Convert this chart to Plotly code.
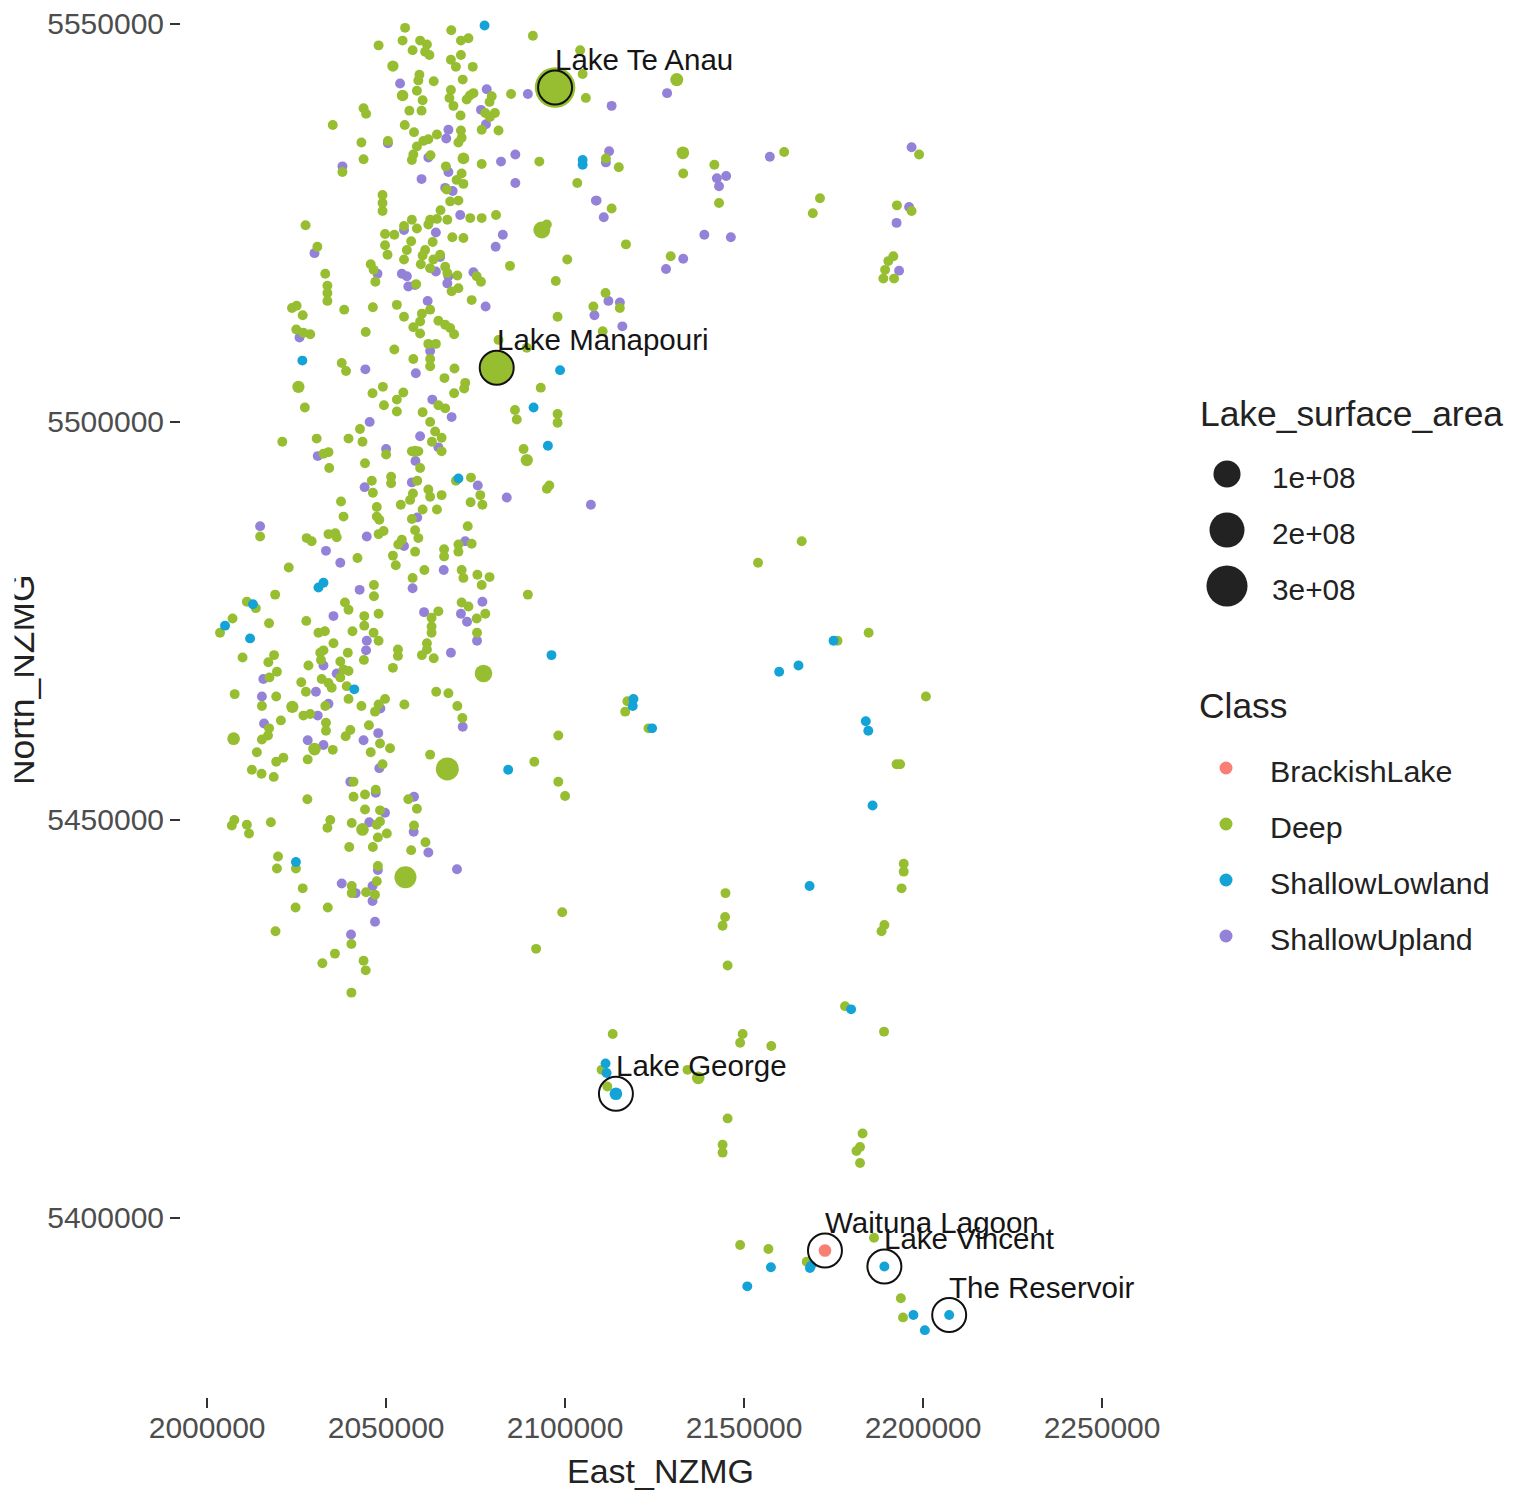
import plotly.graph_objects as go

# (East_NZMG, North_NZMG) in km
deep = [
(2055.3,5549.5),(2068.2,5549.2),(2091.0,5548.5),(2070.9,5547.9),(2073.0,5548.2),(2054.6,5547.9),(2047.9,5547.3),(2059.5,5547.9),(2061.4,5547.4),(2057.4,5546.7),
(2060.9,5546.5),(2062.1,5546.1),(2070.9,5546.1),(2068.1,5545.5),(2069.5,5544.6),(2074.2,5544.6),(2059.3,5543.6),(2059.0,5542.9),(2063.3,5542.8),(2071.4,5543.0),
(2058.6,5541.6),(2068.1,5541.7),(2067.7,5540.7),(2068.8,5539.7),(2073.4,5541.0),(2072.5,5540.5),(2074.4,5541.3),(2060.2,5540.4),(2079.5,5540.9),(2078.9,5540.2),
(2084.9,5541.2),(2105.8,5540.7),(2104.9,5543.7),(2104.2,5546.7),(2043.7,5539.4),(2044.4,5538.7),(2056.5,5539.1),(2059.9,5539.1),(2070.8,5538.5),(2077.7,5538.8),
(2079.0,5538.3),(2080.4,5538.8),(2035.1,5537.3),(2055.2,5537.3),(2057.8,5536.4),(2076.7,5536.7),(2081.4,5536.6),(2070.9,5536.6),(2071.1,5535.7),(2070.2,5535.1),
(2064.2,5536.1),(2061.8,5535.5),(2060.4,5535.3),(2043.1,5535.1),(2050.5,5535.3),(2058.6,5534.6),(2057.6,5533.6),(2057.2,5532.9),(2043.7,5533.0),(2062.4,5533.5),
(2076.7,5532.4),(2092.8,5532.7),(2066.7,5532.1),(2037.8,5531.4),(2071.1,5531.2),(2069.7,5530.4),(2071.6,5529.9),(2103.4,5530.0),(2066.9,5529.2),(2067.9,5527.7),
(2070.2,5527.8),(2049.0,5528.5),(2049.0,5527.5),(2049.0,5526.5),(2065.2,5526.6),(2080.7,5526.0),(2073.5,5525.6),(2076.7,5525.6),(2067.1,5525.4),(2064.2,5525.5),
(2062.3,5525.4),(2061.8,5524.8),(2057.2,5525.4),(2055.0,5524.6),(2058.6,5524.3),(2027.5,5524.7),(2094.9,5524.8),(2049.7,5523.6),(2052.3,5523.5),(2049.7,5522.2),
(2050.4,5521.0),(2068.5,5523.2),(2071.6,5523.1),(2057.0,5522.7),(2055.8,5521.6),(2055.0,5520.4),(2063.0,5522.6),(2030.8,5522.0),(2060.9,5521.6),(2060.2,5520.9),
(2059.7,5519.8),(2065.1,5521.0),(2063.2,5520.4),(2062.3,5519.3),(2100.6,5520.4),(2066.5,5519.5),(2067.1,5518.7),(2045.7,5519.8),(2046.5,5519.1),(2084.6,5519.6),
(2033.0,5518.6),(2069.9,5518.4),(2075.3,5518.3),(2076.5,5517.6),(2047.0,5517.6),(2097.4,5517.7),(2058.4,5517.3),(2033.6,5517.1),(2033.6,5516.2),(2033.6,5515.2),
(2070.2,5516.8),(2068.3,5516.4),(2073.9,5515.3),
(2025.0,5514.6),(2023.7,5514.3),(2026.7,5513.4),(2038.3,5514.1),(2046.3,5514.4),(2053.0,5514.7),(2055.0,5513.2),(2062.3,5514.1),(2060.0,5513.6),(2097.9,5513.2),
(2107.9,5514.5),(2059.5,5512.6),(2057.6,5511.9),(2059.5,5511.1),(2064.6,5512.7),(2066.5,5512.2),(2067.9,5511.8),(2069.0,5511.0),(2024.9,5511.6),(2026.9,5511.2),
(2028.8,5511.0),(2044.3,5511.3),(2081.4,5510.3),(2089.3,5509.3),(2061.8,5509.8),(2063.9,5509.8),(2052.3,5509.1),(2057.6,5507.9),(2062.3,5507.9),(2062.3,5507.0),
(2037.6,5507.4),(2038.8,5506.4),(2069.1,5506.7),(2066.3,5505.5),(2072.1,5504.9),(2071.8,5504.2),(2093.2,5504.3),(2049.1,5504.4),(2046.2,5503.6),(2069.0,5503.6),
(2054.8,5503.7),(2053.0,5502.8),(2053.0,5501.3),(2049.4,5502.1),(2027.3,5501.8),(2066.5,5501.7),(2064.6,5502.1),(2086.0,5501.5),(2086.5,5500.3),(2060.2,5501.2),
(2097.9,5501.0),(2097.9,5499.9),(2062.3,5500.0),(2042.7,5499.1),(2063.7,5498.8),(2065.5,5498.0),(2062.8,5497.5),(2021.0,5497.5),(2030.6,5497.9),(2039.5,5497.9),
(2043.4,5497.5),(2088.4,5496.6),(2033.9,5496.2),(2032.5,5496.0),(2057.2,5496.3),(2059.0,5496.3),(2065.5,5496.3),(2050.0,5495.9),(2044.1,5494.8),(2059.5,5494.2),
(2034.1,5494.2),(2046.0,5492.6),(2051.4,5493.1),(2051.4,5492.3),(2058.7,5492.6),(2073.7,5493.0),(2069.5,5492.6),(2095.6,5492.0),(2094.9,5491.6),(2046.3,5491.1),
(2061.8,5491.5),(2062.3,5490.6),(2065.5,5490.8),(2057.5,5491.0),(2056.7,5490.2),(2076.3,5490.8),(2054.1,5489.6),(2037.4,5490.0),(2073.6,5489.9),(2076.9,5489.6),
(2047.4,5489.3),(2060.2,5489.0),(2064.2,5489.0),(2038.1,5488.1),(2047.4,5488.1),(2048.1,5487.7),(2057.2,5487.8),(2072.8,5486.9),(2058.1,5486.4),(2059.0,5485.4),
(2054.4,5485.2),(2053.4,5484.6),(2049.3,5486.3),(2047.9,5485.9),(2035.8,5486.0),(2033.9,5485.9),(2036.2,5485.5),(2027.8,5485.4),(2029.2,5485.0),(2014.8,5485.6),
(2073.9,5484.7),(2070.2,5484.6),(2070.2,5483.7),(2066.2,5484.0),(2066.2,5483.1),(2058.1,5483.7),(2051.9,5483.2),(2042.0,5482.9),(2022.8,5481.7),(2052.7,5482.0),
(2060.7,5481.4),(2071.1,5481.4),(2071.6,5480.4),(2075.5,5480.8),(2078.9,5480.5),(2076.7,5479.5),(2057.4,5480.4),(2046.6,5479.5),(2046.6,5478.1),(2019.0,5478.3),
(2089.6,5478.3),
(2011.1,5477.4),(2013.6,5476.6),(2007.1,5475.3),(2003.6,5473.5),(2017.3,5474.7),(2027.7,5475.0),(2038.5,5477.3),(2039.5,5476.4),(2043.9,5475.6),(2043.9,5474.4),
(2047.9,5475.9),(2064.6,5476.2),(2062.7,5475.4),(2062.7,5474.3),(2062.7,5473.5),(2071.1,5477.3),(2073.0,5476.8),(2075.3,5475.3),(2077.7,5475.9),(2040.6,5473.7),
(2032.9,5473.7),(2031.1,5473.5),(2046.5,5473.5),(2047.9,5472.5),(2075.4,5473.5),(2035.3,5472.2),(2061.4,5472.2),(2061.4,5471.4),(2060.0,5470.7),(2053.3,5471.4),
(2053.3,5470.6),(2009.9,5470.4),(2032.5,5471.3),(2031.6,5471.0),(2031.8,5470.1),(2039.3,5471.0),(2043.8,5470.1),(2063.3,5470.3),(2018.7,5470.7),(2017.1,5469.8),
(2028.3,5469.4),(2037.2,5469.9),(2038.1,5468.9),(2039.5,5468.7),(2037.2,5467.9),(2051.9,5469.1),(2019.5,5468.6),(2017.4,5467.9),(2032.0,5467.7),(2033.9,5467.2),
(2034.8,5466.6),(2026.3,5467.3),(2027.6,5466.1),(2039.0,5466.8),(2007.7,5465.8),(2019.3,5465.5),(2064.0,5466.1),(2067.4,5465.9),(2039.5,5465.2),(2049.7,5465.2),
(2047.9,5464.5),(2046.9,5463.6),(2015.3,5464.3),(2033.0,5464.3),(2043.1,5464.3),(2055.1,5464.5),(2069.9,5464.3),(2028.8,5463.3),(2026.9,5463.1),(2071.3,5462.8),
(2020.6,5462.5),(2033.2,5462.2),(2033.2,5461.2),(2045.2,5461.9),(2017.3,5461.5),(2040.0,5461.3),(2038.7,5460.5),(2017.0,5460.6),(2015.3,5460.1),(2098.1,5460.6),
(2048.3,5459.6),(2051.1,5459.0),(2035.1,5458.8),(2013.9,5458.5),(2045.7,5458.5),(2062.3,5458.2),(2021.3,5457.8),(2019.3,5457.3),(2028.1,5457.6),(2091.4,5457.3),
(2049.0,5457.0),(2012.5,5456.3),(2015.2,5455.8),(2018.6,5455.4),(2098.1,5454.8),(2100.0,5453.0),(2040.9,5454.8),(2047.1,5453.8),(2044.1,5453.2),(2040.9,5452.9),
(2028.0,5452.6),(2056.2,5452.6),(2058.6,5451.4),(2044.1,5451.3),(2048.3,5451.2),(2007.6,5450.0),(2006.9,5449.3),(2011.1,5449.4),(2011.7,5448.3),(2017.8,5449.7),
(2034.4,5450.0),(2033.6,5449.0),(2040.4,5449.6),(2048.3,5449.8),(2047.4,5449.4),(2050.2,5448.3),(2047.7,5447.8),(2057.8,5449.3),(2061.0,5447.2),(2039.7,5446.6),
(2046.3,5446.6),(2057.0,5446.2),(2019.8,5445.4),(2019.5,5443.9),(2024.8,5443.9),(2047.7,5444.2),(2047.4,5442.3),(2040.4,5441.7),(2026.7,5441.4),
(2040.4,5440.8),(2044.4,5440.9),(2046.9,5440.6),(2024.7,5439.0),(2033.7,5439.0),(2099.2,5438.4),(2019.1,5436.0),(2040.3,5434.4),(2091.9,5433.8),(2035.7,5433.2),
(2032.2,5432.0),(2043.7,5432.3),(2044.3,5431.1),(2040.3,5428.3),
(2115.0,5532.0),(2111.4,5533.1),(2133.0,5531.2),(2141.7,5532.3),(2143.0,5527.5),(2161.2,5533.9),(2171.2,5528.1),(2169.2,5526.2),(2198.9,5533.6),(2192.7,5527.2),
(2196.8,5526.5),(2113.0,5526.8),(2117.0,5522.3),(2129.5,5520.8),(2191.7,5520.8),(2190.3,5520.2),(2189.4,5519.1),(2188.9,5518.0),(2191.9,5518.0),(2111.3,5516.2),
(2115.3,5514.3),(2110.5,5511.4),
(2166.1,5485.0),(2153.9,5482.3),(2184.8,5473.5),(2176.1,5472.5),(2200.8,5465.5),(2117.4,5464.9),(2116.8,5463.6),(2123.3,5461.5),(2192.6,5457.0),(2193.6,5457.0),
(2194.6,5444.5),(2194.6,5443.5),(2194.0,5441.4),(2144.8,5440.8),(2144.7,5437.8),(2144.0,5436.7),(2189.2,5436.8),(2188.4,5436.0),(2145.4,5431.7),(2178.2,5426.6),
(2189.1,5423.4),(2113.3,5423.1),(2149.6,5423.1),(2148.9,5422.0),(2157.6,5421.6),(2110.2,5418.6),(2134.2,5418.6),(2111.8,5416.5),(2145.4,5412.5),(2183.1,5410.6),
(2182.4,5408.9),(2181.4,5408.4),(2144.0,5409.2),(2144.0,5408.2),(2182.4,5406.9),
(2148.9,5396.6),(2156.8,5396.1),(2167.5,5394.5),(2186.3,5397.5),(2193.8,5389.9),(2194.4,5387.5),
]
shallow_upland = [
(2053.9,5542.5),(2078.1,5541.8),(2089.6,5541.2),(2076.5,5539.2),(2077.9,5537.4),(2067.4,5536.7),(2066.8,5535.6),(2050.5,5535.0),(2082.1,5532.7),(2086.1,5533.6),
(2061.8,5533.2),(2037.8,5532.1),(2059.9,5530.5),(2086.1,5530.0),(2067.4,5531.4),(2066.5,5529.4),(2068.6,5529.0),(2108.6,5527.8),(2070.7,5526.0),(2055.0,5524.1),
(2063.9,5523.8),(2082.6,5523.5),(2080.6,5522.0),(2030.0,5521.2),(2065.1,5520.7),(2063.9,5518.9),(2047.6,5518.6),(2054.4,5518.6),(2055.8,5518.3),(2056.2,5517.0),
(2058.1,5517.2),(2067.4,5518.3),(2067.1,5517.4),(2074.4,5518.8),(2061.6,5515.2),(2077.8,5514.5),
(2108.2,5513.4),(2025.8,5510.6),(2062.3,5508.9),(2044.2,5506.6),(2058.3,5506.1),(2062.9,5502.8),(2068.3,5500.6),(2045.4,5500.0),(2059.5,5498.2),(2064.6,5496.8),
(2050.0,5496.6),(2030.9,5495.7),(2058.2,5495.1),(2057.2,5492.4),(2075.6,5492.0),(2044.0,5491.8),(2083.7,5490.5),(2107.2,5489.6),(2058.7,5488.0),(2014.8,5486.9),
(2044.6,5485.6),(2072.1,5485.0),(2055.0,5484.4),(2033.2,5483.8),(2037.2,5482.3),(2066.1,5481.4),(2042.6,5478.9),(2057.4,5479.1),
(2076.9,5477.4),(2060.6,5476.1),(2035.3,5475.6),(2070.9,5475.9),(2072.6,5474.9),(2044.6,5472.5),(2044.4,5471.3),(2075.4,5472.5),(2068.1,5471.0),(2032.5,5469.4),
(2036.2,5468.4),(2015.7,5467.7),(2030.4,5466.1),(2015.3,5465.5),(2033.9,5464.6),(2048.4,5464.0),(2030.9,5463.1),(2071.4,5461.7),(2015.9,5462.1),(2047.8,5460.9),
(2028.1,5460.0),(2043.7,5460.0),(2032.5,5459.4),(2048.1,5456.5),(2040.0,5454.8),(2057.8,5452.9),(2047.1,5453.4),(2049.7,5450.9),(2045.3,5449.7),(2057.7,5448.5),
(2061.8,5445.9),(2069.8,5443.8),(2047.7,5443.7),(2037.6,5442.0),(2046.2,5441.7),(2041.5,5440.8),(2046.2,5439.8),(2046.9,5437.2),(2040.2,5435.6),
(2128.5,5541.3),(2113.0,5539.7),(2112.3,5534.0),(2111.4,5532.6),(2157.2,5533.3),(2196.8,5534.5),(2145.0,5530.9),(2142.4,5530.6),(2143.0,5529.6),(2108.8,5527.8),
(2110.8,5525.7),(2138.9,5523.5),(2146.3,5523.2),(2196.1,5527.0),(2192.6,5525.0),(2133.0,5520.5),(2128.2,5519.2),(2193.3,5519.0),(2112.1,5515.2),(2115.3,5515.0),
(2116.0,5512.0),
]
shallow_lowland = [
(2077.5,5549.8),(2104.9,5532.3),(2104.9,5532.9),(2026.6,5507.7),(2098.6,5506.5),(2091.2,5501.8),(2095.2,5497.0),(2070.2,5492.9),(2032.5,5479.8),(2031.1,5479.2),
(2012.8,5477.1),(2005.0,5474.4),(2012.0,5472.8),(2096.2,5470.7),(2041.1,5466.4),(2084.1,5456.3),(2024.8,5444.7),
(2175.0,5472.5),(2165.2,5469.4),(2159.8,5468.6),(2119.1,5465.2),(2118.9,5464.3),(2124.3,5461.5),(2184.0,5462.4),(2184.7,5461.2),(2185.9,5451.8),
(2168.3,5441.7),(2179.9,5426.2),(2111.3,5419.4),(2111.6,5418.2),
(2157.5,5393.8),(2150.9,5391.4),(2168.4,5393.7),(2168.7,5394.0),(2189.2,5393.9),(2197.3,5387.8),(2200.5,5385.9),(2207.3,5387.8),
]
# lakes large enough to show their Lake_surface_area: (East, North, area m2)
large_deep = [
(2097.2,5542.0,2.9e8),(2080.9,5506.8,1.7e8),(2067.1,5456.4,6.2e7),(2055.4,5442.8,5.4e7),(2093.5,5524.1,2.2e7),(2077.2,5468.4,2.5e7),
(2071.6,5533.1,4e6),(2025.5,5504.4,5e6),(2089.3,5495.2,5e6),(2043.4,5448.8,6e6),(2030.0,5458.9,6e6),(2023.8,5464.2,5e6),(2007.4,5460.2,6e6),
(2132.9,5533.8,6e6),(2131.2,5543.0,7e6),(2137.2,5417.6,6e6),(2051.9,5544.7,3e6),(2054.6,5541.0,3.5e6),(2058.1,5496.3,3e6),
]
large_brackish = [(2172.6,5395.9,6e6)]
large_lowland = [(2114.2,5415.6,6e6)]
DEFAULT_AREA = 1e6

labels = ["Lake Te Anau","Lake Manapouri","Lake George","Waituna Lagoon","Lake Vincent","The Reservoir"]
label_east = [2097.2,2080.9,2114.2,2172.6,2189.2,2207.3]
label_north = [5542.0,5506.8,5415.6,5395.9,5393.9,5387.8]
circled_east = label_east
circled_north = label_north

x_ticks = [2000000,2050000,2100000,2150000,2200000,2250000]
y_ticks = [5400000,5450000,5500000,5550000]
size_breaks = [1e8,2e8,3e8]
size_labels = ["1e+08","2e+08","3e+08"]
class_names = ["BrackishLake","Deep","ShallowLowland","ShallowUpland"]
class_colors = {"BrackishLake":"#F97F74","Deep":"#96BE30","ShallowLowland":"#14A3D6","ShallowUpland":"#9482D8"}

FONT = "Liberation Sans"
W, H = 1519, 1491
L, R, B = 181, 1150, 1397

def marker_size(area):
    return 8 + 1.91e-3 * area ** 0.5

fig = go.Figure()

def add_points(pts, cls):
    fig.add_trace(go.Scatter(
        x=[p[0]*1000 for p in pts], y=[p[1]*1000 for p in pts], mode="markers", name=cls, showlegend=False,
        marker=dict(color=class_colors[cls], opacity=1,
                    size=[marker_size(p[2] if len(p) > 2 else DEFAULT_AREA) for p in pts],
                    line=dict(width=0)),
        hoverinfo="x+y+name"))

add_points(shallow_upland, "ShallowUpland")
add_points(deep, "Deep")
add_points(large_deep, "Deep")
add_points(shallow_lowland, "ShallowLowland")
add_points(large_lowland, "ShallowLowland")
add_points(large_brackish, "BrackishLake")

fig.add_trace(go.Scatter(
    x=[v*1000 for v in circled_east], y=[v*1000 for v in circled_north], mode="markers", showlegend=False,
    marker=dict(symbol="circle-open", size=34, color="#111111", opacity=1, line=dict(width=2, color="#111111")),
    hoverinfo="skip"))

# legend keys on a pixel-like helper axis to the right of the panel
fig.add_trace(go.Scatter(
    x=[1227]*3, y=[474,530,586], mode="markers", xaxis="x2", yaxis="y2", showlegend=False,
    marker=dict(color="#222222", opacity=1, size=[marker_size(a) for a in size_breaks], line=dict(width=0)), hoverinfo="skip"))
fig.add_trace(go.Scatter(
    x=[1226]*4, y=[768,824,880,936], mode="markers", xaxis="x2", yaxis="y2", showlegend=False,
    marker=dict(color=[class_colors[c] for c in class_names], opacity=1, size=13, line=dict(width=0)), hoverinfo="skip"))

anns = []
for t, e, n in zip(labels, label_east, label_north):
    anns.append(dict(text=t, x=e*1000, y=n*1000, xref="x", yref="y", xanchor="left", yanchor="middle",
                     yshift=28, xshift=-2, showarrow=False, font=dict(family=FONT, size=29.5, color="#151515")))
def leg(t, x, y, size, color):
    anns.append(dict(text=t, x=x, y=y, xref="x2", yref="y2", xanchor="left", yanchor="middle",
                     showarrow=False, borderpad=0, font=dict(family=FONT, size=size, color=color)))
leg("Lake_surface_area", 1199, 414, 35.4, "#222222")
for t, y in zip(size_labels, [477,533,589]):
    leg(t, 1271, y, 29.8, "#222222")
leg("Class", 1198, 706, 35.4, "#222222")
for t, y in zip(class_names, [771,827,883,939]):
    leg(t, 1269, y, 30.4, "#222222")

plot_w = W - L
def paper_x(px):
    return (px - L) / plot_w
# axis titles (the reference has the tops of the y title's letters cut off at the page side)
anns.append(dict(text="East_NZMG", x=paper_x(660), y=1-1471/B, xref="paper", yref="paper", xanchor="center", yanchor="middle",
                 showarrow=False, font=dict(family=FONT, size=34, color="#222222")))
anns.append(dict(text="North_NZMG", x=paper_x(22), y=1-680/B, xref="paper", yref="paper", xanchor="center", yanchor="middle",
                 textangle=-90, showarrow=False, font=dict(family=FONT, size=35.4, color="#222222")))
anns.append(dict(text=" ", x=paper_x(0), y=1-680/B, xref="paper", yref="paper", xanchor="left", yanchor="middle",
                 width=13, height=280, bgcolor="white", borderpad=0, showarrow=False))

axis_common = dict(showgrid=False, zeroline=False, showline=False, ticks="outside", ticklen=10, tickwidth=1.6,
                   tickcolor="#333333", tickfont=dict(family=FONT, size=30, color="#4d4d4d"), tickformat="d")
fig.update_layout(
    width=W, height=H, autosize=False, paper_bgcolor="white", plot_bgcolor="white",
    margin=dict(l=L, r=0, t=0, b=H-B, pad=0, autoexpand=False), showlegend=False, annotations=anns,
    xaxis=dict(domain=[0,(R-L)/plot_w], range=[1992700,2263400], tickvals=x_ticks, ticktext=[str(v) for v in x_ticks],
               ticklabelstandoff=-6, **axis_common),
    yaxis=dict(range=[5377500,5553000], tickvals=y_ticks, ticktext=[str(v) for v in y_ticks], **axis_common),
    xaxis2=dict(domain=[(R-L)/plot_w,1], range=[R,W], visible=False, anchor="y2"),
    yaxis2=dict(domain=[0,1], range=[B,0], visible=False, anchor="x2"),
)
fig.write_html("out.html", config=dict(displayModeBar=False), post_script="document.body.style.margin='0';")
